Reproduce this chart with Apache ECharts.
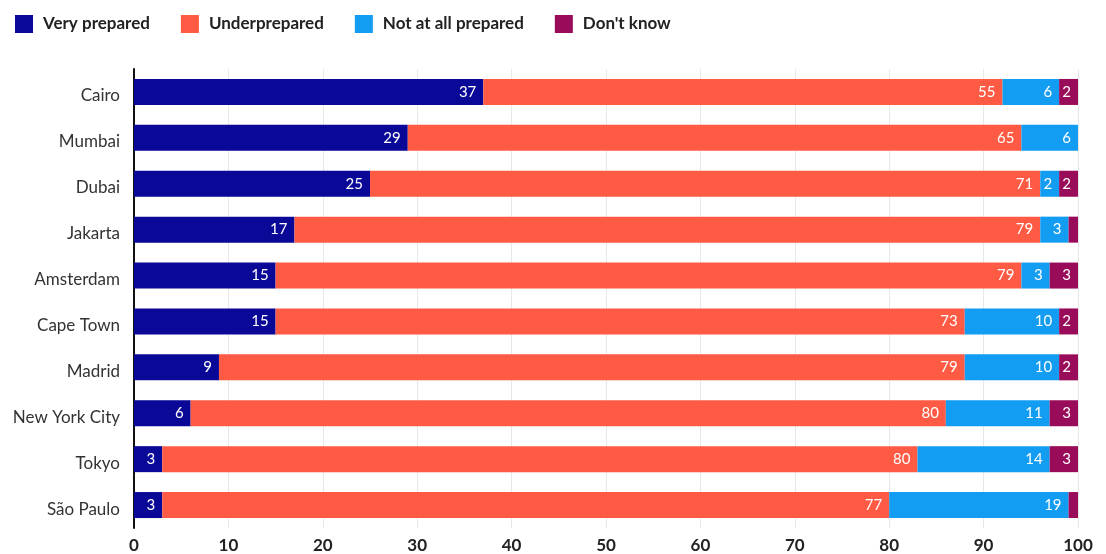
<!DOCTYPE html>
<html>
<head>
<meta charset="utf-8">
<script src="https://cdn.jsdelivr.net/npm/echarts@6/dist/echarts.min.js"></script>
<style>
  html, body { margin: 0; padding: 0; background: #fff; }
  #chartBox { width: 1106px; height: 554px; }
</style>
</head>
<body>
<div id="chartBox"></div>
<script>
// data
const cities = ['Cairo', 'Mumbai', 'Dubai', 'Jakarta', 'Amsterdam', 'Cape Town', 'Madrid', 'New York City', 'Tokyo', 'São Paulo']
const veryPrepared = [37, 29, 25, 17, 15, 15, 9, 6, 3, 3]
const underprepared = [55, 65, 71, 79, 79, 73, 79, 80, 80, 77]
const notAtAll = [6, 6, 2, 3, 3, 10, 10, 11, 14, 19]
const dontKnow = [2, 0, 2, 1, 3, 2, 2, 3, 3, 1]
const xTicks = [0, 10, 20, 30, 40, 50, 60, 70, 80, 90, 100]

const seriesNames = ['Very prepared', 'Underprepared', 'Not at all prepared', "Don't know"]
const seriesData = [veryPrepared, underprepared, notAtAll, dontKnow]
const colors = ['#0a0896', '#ff5a43', '#129cf2', '#990c59']

const font = 'Lato, "Noto Sans", sans-serif'

const chart = echarts.init(document.getElementById('chartBox'))

chart.setOption({
  color: colors,
  textStyle: { fontFamily: font },
  animation: false,
  legend: {
    left: 10,
    top: 10,
    icon: 'rect',
    itemWidth: 18,
    itemHeight: 18,
    itemGap: 31,
    data: seriesNames,
    textStyle: { color: '#222', fontSize: 17, fontWeight: 'bold', fontFamily: font, padding: [0, 0, 0, 5] }
  },
  grid: { left: 134, right: 28, top: 69, bottom: 26, containLabel: false },
  xAxis: {
    type: 'value',
    min: xTicks[0],
    max: xTicks[xTicks.length - 1],
    interval: 10,
    axisLine: { show: false },
    axisTick: { show: false },
    splitLine: { show: true, lineStyle: { color: '#e8e8e8', width: 1 } },
    axisLabel: { color: '#222', fontSize: 17, fontWeight: 'bold', margin: 9, fontFamily: font }
  },
  yAxis: {
    type: 'category',
    inverse: true,
    data: cities,
    axisLine: { show: true, lineStyle: { color: '#111', width: 2 } },
    axisTick: { show: false },
    axisLabel: { color: '#333', fontSize: 17, margin: 14, verticalAlign: 'top', lineHeight: 8, fontFamily: font }
  },
  series: seriesNames.map((name, i) => ({
    name: name,
    type: 'bar',
    stack: 'total',
    barWidth: 26,
    data: seriesData[i],
    label: {
      show: true,
      position: 'insideRight',
      distance: 7,
      color: '#fff',
      fontSize: 15,
      fontFamily: font,
      formatter: p => (p.value >= 2 ? String(p.value) : '')
    }
  }))
})
</script>
</body>
</html>
